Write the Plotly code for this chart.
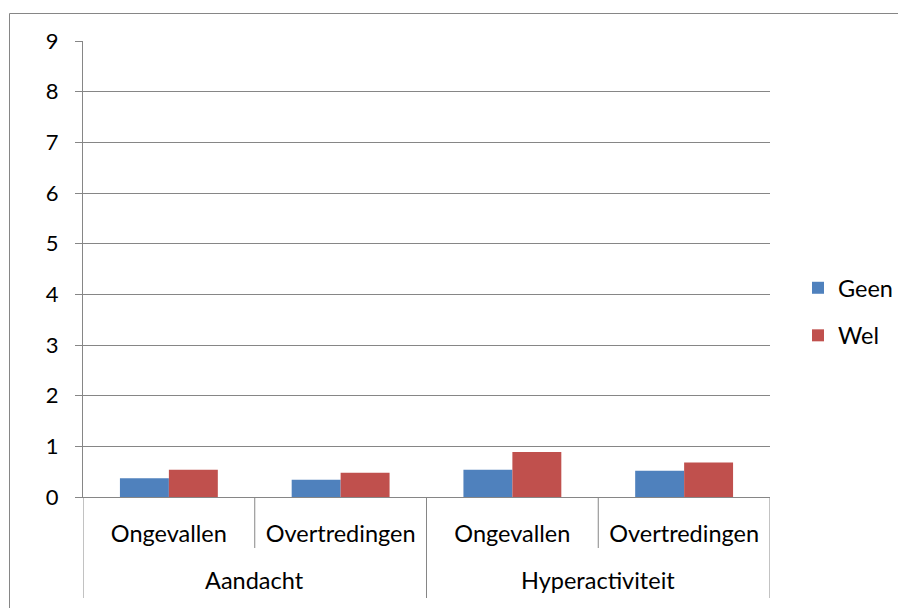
import plotly.graph_objects as go

groups = ["Aandacht", "Aandacht", "Hyperactiviteit", "Hyperactiviteit"]
subcats = ["Ongevallen", "Overtredingen", "Ongevallen", "Overtredingen"]
outer_labels = ["Aandacht", "Hyperactiviteit"]
geen = [0.37, 0.34, 0.54, 0.52]
wel = [0.54, 0.48, 0.89, 0.68]
yticks = [0, 1, 2, 3, 4, 5, 6, 7, 8, 9]

GRAY = "#868686"
FONT = "Lato, Carlito, 'Liberation Sans', sans-serif"
xs = list(range(len(subcats)))

fig = go.Figure()
fig.add_trace(go.Bar(x=xs, y=geen, name="Geen", marker_color="#4F81BD",
                     marker_line_width=0, legendgroup="a"))
fig.add_trace(go.Bar(x=xs, y=wel, name="Wel", marker_color="#C0504D",
                     marker_line_width=0, legendgroup="b"))

OFF = 8  # page body margin
W, H = 906 - OFF, 608 - OFF
# plot area in page pixels: x 83..770, y 41..497
PL, PR, PT, PB = 83, 770, 41, 497
L, T = PL - OFF, PT - OFF
pw, ph = PR - PL, PB - PT
R, B = W - L - pw, H - T - ph

def px_x(px):
    return (px - PL) / pw

def px_y(py):
    return (PB - py) / ph

shapes = []
# outer frame
shapes.append(dict(type="rect", xref="paper", yref="paper",
                   x0=px_x(9.5), x1=px_x(920), y0=px_y(620), y1=px_y(13.5),
                   line=dict(color=GRAY, width=1), fillcolor="rgba(0,0,0,0)", layer="below"))
# short dividers between sub-categories
for xv in [0.5, 2.5]:
    shapes.append(dict(type="line", xref="x", yref="paper", x0=xv, x1=xv,
                       y0=0, y1=px_y(548), line=dict(color=GRAY, width=1)))
# long dividers between groups
for xv in [-0.5, 1.5, 3.5]:
    shapes.append(dict(type="line", xref="x", yref="paper", x0=xv, x1=xv,
                       y0=0, y1=px_y(598), line=dict(color=GRAY, width=1)))

annotations = []
for i, g in enumerate(outer_labels):
    annotations.append(dict(x=2 * i + 0.5, y=px_y(580), xref="x", yref="paper",
                            text=g, showarrow=False, yanchor="middle",
                            font=dict(size=23.5, color="#000000", family=FONT)))

fig.update_layout(
    width=W, height=H,
    margin=dict(l=L, r=R, t=T, b=B, autoexpand=False),
    paper_bgcolor="white", plot_bgcolor="white",
    barmode="group", bargap=0.43, bargroupgap=0,
    font=dict(family=FONT, size=23.5, color="#000000"),
    shapes=shapes, annotations=annotations,
    legend=dict(x=px_x(798), y=px_y(312), xanchor="left", yanchor="middle",
                font=dict(size=23.5), tracegroupgap=14, itemwidth=30,
                bgcolor="rgba(0,0,0,0)"),
    showlegend=True,
)
fig.update_xaxes(range=[-0.5, 3.5], tickvals=xs, ticktext=subcats,
                 showline=True, linecolor=GRAY, linewidth=1, ticks="",
                 showgrid=False, zeroline=False, ticklabelstandoff=16,
                 tickfont=dict(size=23.5))
fig.update_yaxes(range=[0, 9], tickvals=yticks, showgrid=True, gridcolor=GRAY,
                 gridwidth=1, showline=True, linecolor=GRAY, linewidth=1,
                 ticks="outside", ticklen=7, tickcolor=GRAY, zeroline=False,
                 ticklabelstandoff=12, tickfont=dict(size=22))

fig.write_html("out.html")
